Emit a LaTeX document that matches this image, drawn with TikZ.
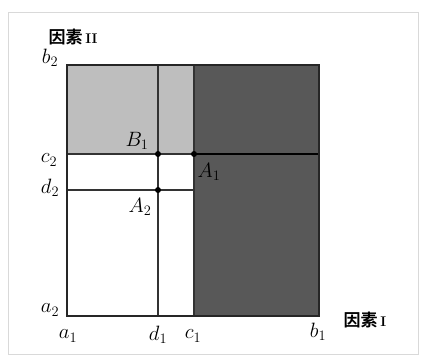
\documentclass[tikz,border=0pt]{standalone}
\usepackage{fontspec}
\newfontfamily\cjk{Noto Sans CJK SC}[BoldFont=* Bold]
\definecolor{lightfill}{RGB}{190,190,190}
\definecolor{darkfill}{RGB}{88,88,88}
\begin{document}
\begin{tikzpicture}[x=1pt,y=-1pt,
  lbl/.style={inner sep=0pt,font=\fontsize{21}{24}\selectfont},
  axlbl/.style={inner sep=0pt,font=\fontsize{17}{20}\selectfont\cjk\bfseries},
  grid/.style={line width=1.6pt,black!80},
  pt/.style={circle,fill=black,inner sep=0pt,minimum size=6pt}]
\useasboundingbox (0,0) rectangle (421,358);
\draw[gray!30,line width=1pt] (8,13) rectangle (418,355);
% coordinates
\coordinate (SW) at (67,316);
\coordinate (NE) at (319,65);
\coordinate (NW) at (67,65);
\coordinate (SE) at (319,316);
\coordinate (D1t) at (158,65);
\coordinate (D1b) at (158,316);
\coordinate (C1t) at (194,65);
\coordinate (C1b) at (194,316);
\coordinate (C2l) at (67,154);
\coordinate (C2r) at (319,154);
\coordinate (D2l) at (67,190);
\coordinate (D2r) at (194,190);
% fills
\fill[lightfill] (NW) rectangle (194,154);
\fill[darkfill] (C1t) rectangle (SE);
% lines
\draw[grid] (D1t) -- (D1b);
\draw[grid] (C1t) -- (C1b);
\draw[grid] (C2l) -- (194,154);
\draw[line width=2.8pt,black] (194,154) -- (C2r);
\draw[grid] (D2l) -- (D2r);
\draw[line width=2pt,black!85] (SW) rectangle (NE);
% points
\node[pt] (B1) at (158,154) {};
\node[pt] (A1) at (194,154) {};
\node[pt] (A2) at (158,190) {};
% labels
\node[axlbl] (f2) at (73,37) {因素\,{\rmfamily\bfseries\fontsize{14}{16}\selectfont II}};
\node[axlbl] (f1) at (365,320) {因素\,{\rmfamily\bfseries\fontsize{14}{16}\selectfont I}};
\node[lbl] (lb2) at (50,58) {$b_2$};
\node[lbl] (lc2) at (49,160) {$c_2$};
\node[lbl] (ld2) at (50,188) {$d_2$};
\node[lbl] (la2) at (50,310) {$a_2$};
\node[lbl] (la1) at (68,336) {$a_1$};
\node[lbl] (ld1) at (158,335) {$d_1$};
\node[lbl] (lc1) at (193,336) {$c_1$};
\node[lbl] (lb1) at (318,332) {$b_1$};
\node[lbl] (lB1) at (137,141) {$B_1$};
\node[lbl] (lA1) at (209,172) {$A_1$};
\node[lbl] (lA2) at (140,207) {$A_2$};
\end{tikzpicture}
\end{document}
